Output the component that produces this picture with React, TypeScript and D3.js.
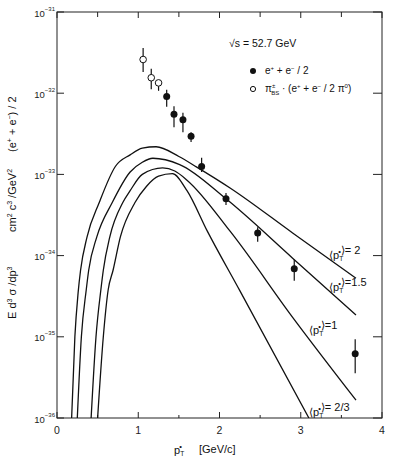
import React from 'react';
import * as d3 from 'd3';

// data points (pT in GeV/c, E d3s/dp3 in cm2 c3/GeV2)
const pTSolid = [1.35, 1.44, 1.55, 1.65, 1.78, 2.08, 2.47, 2.92, 3.67];
const valSolid = [9.1e-33, 5.5e-33, 4.7e-33, 2.95e-33, 1.25e-33, 5.0e-34, 1.9e-34, 6.9e-35, 6.2e-36];
const loSolid = [6.8e-33, 3.8e-33, 3.3e-33, 2.5e-33, 1.07e-33, 4.2e-34, 1.48e-34, 4.9e-35, 3.55e-36];
const hiSolid = [1.1e-32, 6.9e-33, 5.75e-33, 3.3e-33, 1.6e-33, 5.9e-34, 2.24e-34, 8.9e-35, 9.3e-36];

const pTOpen = [1.06, 1.16, 1.25];
const valOpen = [2.6e-32, 1.55e-32, 1.34e-32];
const loOpen = [1.82e-32, 1.12e-32, 1.07e-32];
const hiOpen = [3.6e-32, 2.0e-32, 1.45e-32];

// model curves for <pT*> = 2, 1.5, 1, 2/3
const curve2: [number, number][] = [
  [0.18, 1e-36], [0.22, 1e-35], [0.26, 3.5e-35], [0.29, 6.6e-35], [0.37, 1.7e-34],
  [0.52, 4.5e-34], [0.72, 1.26e-33], [0.9, 1.74e-33], [1.05, 2.1e-33], [1.22, 2.19e-33],
  [1.5, 1.66e-33], [1.72, 1.23e-33], [2.13, 6.8e-34], [2.9, 1.9e-34], [3.68, 5.25e-35],
];
const curve15: [number, number][] = [
  [0.25, 1e-36], [0.3, 1e-35], [0.36, 3.8e-35], [0.39, 6.6e-35], [0.49, 1.7e-34],
  [0.68, 4.5e-34], [0.9, 1.07e-33], [1.05, 1.41e-33], [1.18, 1.58e-33], [1.51, 1.32e-33],
  [2.08, 5.0e-34], [2.9, 9.3e-35], [3.68, 1.86e-35],
];
const curve1: [number, number][] = [
  [0.42, 1e-36], [0.48, 1e-35], [0.54, 3.8e-35], [0.57, 6.6e-35], [0.65, 1.7e-34],
  [0.81, 4.5e-34], [0.9, 6.3e-34], [1.05, 1.0e-33], [1.3, 1.2e-33], [1.45, 1.1e-33],
  [1.6, 8.5e-34], [2.13, 2.0e-34], [2.9, 1.74e-35], [3.68, 1.66e-36],
];
const curve23: [number, number][] = [
  [0.5, 1e-36], [0.57, 1e-35], [0.63, 3.8e-35], [0.69, 6.6e-35], [0.78, 1.7e-34],
  [0.96, 4.5e-34], [1.1, 7.1e-34], [1.25, 9.5e-34], [1.42, 1.02e-33], [1.6, 6.3e-34],
  [1.85, 2.0e-34], [2.25, 3.7e-35], [3.1, 1e-36],
];

const xTicks = [0, 1, 2, 3, 4];
const xHalfTicks = [0.5, 1.5, 2.5, 3.5];
const yExps = [-31, -32, -33, -34, -35, -36];

const font = 'Liberation Sans, Arial, sans-serif';

export default function App() {
  const x = d3.scaleLinear().domain([0, 4]).range([57, 382]);
  const y = d3.scaleLog().domain([1e-36, 1e-31]).range([418, 12]);
  const line = d3.line<[number, number]>()
    .x(d => x(d[0]))
    .y(d => y(d[1]))
    .curve(d3.curveMonotoneX);

  const [x0, x1] = x.range();
  const [yb, yt] = y.range();

  const pT = (size: number) => (
    <>
      p<tspan fontSize={size * 0.6} dy={2}>T</tspan>
      <tspan fontSize={size * 0.7} dx={-5} dy={-7}>•</tspan>
      <tspan dy={5}>{''}</tspan>
    </>
  );

  const labels = [
    { t: ' 2', x: 329, y: 259 },
    { t: '1.5', x: 329, y: 291 },
    { t: '1', x: 309, y: 334 },
    { t: ' 2/3', x: 309, y: 416 },
  ];

  return (
    <svg width={399} height={464} style={{ position: 'absolute', left: 0, top: 0, background: '#fff' }}
      fontFamily={font}>
      <defs>
        <clipPath id="plot">
          <rect x={x0} y={yt} width={x1 - x0} height={yb - yt} />
        </clipPath>
      </defs>

      {/* frame */}
      <rect x={x0} y={yt} width={x1 - x0} height={yb - yt} fill="none" stroke="#222" strokeWidth={1} />

      {/* y ticks, both sides */}
      {yExps.map(e => {
        const v = Math.pow(10, e);
        return (
          <g key={e}>
            <line x1={x0} x2={x0 + 7} y1={y(v)} y2={y(v)} stroke="#222" />
            <line x1={x1 - 9} x2={x1} y1={y(v)} y2={y(v)} stroke="#222" />
            <text x={55} y={y(v) + 4.5} textAnchor="end" fontSize={9.5} fill="#222">
              10<tspan fontSize={6} dy={-6}>{'\u2212' + String(-e)}</tspan>
            </text>
          </g>
        );
      })}

      {/* x ticks */}
      {xTicks.map(t => (
        <g key={t}>
          <line x1={x(t)} x2={x(t)} y1={yb} y2={yb - 6} stroke="#222" />
          <line x1={x(t)} x2={x(t)} y1={yt} y2={yt + 6} stroke="#222" />
          <text x={x(t)} y={434} textAnchor="middle" fontSize={10.5} fill="#222">{t}</text>
        </g>
      ))}
      {xHalfTicks.map(t => (
        <g key={t}>
          <line x1={x(t)} x2={x(t)} y1={yb} y2={yb - 3} stroke="#222" />
          <line x1={x(t)} x2={x(t)} y1={yt} y2={yt + 5} stroke="#222" />
        </g>
      ))}

      {/* curves */}
      <g clipPath="url(#plot)" fill="none" stroke="#111" strokeWidth={1.3}>
        {[curve2, curve15, curve1, curve23].map((c, i) => (
          <path key={i} d={line(c) || ''} />
        ))}
      </g>

      {/* error bars + markers */}
      <g stroke="#111" strokeWidth={1.2}>
        {pTSolid.map((p, i) => (
          <line key={'es' + i} x1={x(p)} x2={x(p)} y1={y(loSolid[i])} y2={y(hiSolid[i])} />
        ))}
        {pTOpen.map((p, i) => (
          <line key={'eo' + i} x1={x(p)} x2={x(p)} y1={y(loOpen[i])} y2={y(hiOpen[i])} />
        ))}
      </g>
      {pTSolid.map((p, i) => (
        <circle key={'s' + i} cx={x(p)} cy={y(valSolid[i])} r={3.5} fill="#111" />
      ))}
      {pTOpen.map((p, i) => (
        <circle key={'o' + i} cx={x(p)} cy={y(valOpen[i])} r={3.3} fill="#fff" stroke="#111" strokeWidth={1} />
      ))}

      {/* legend */}
      <text x={229} y={47} fontSize={10.5} fill="#111">√s = 52.7 GeV</text>
      <circle cx={253} cy={71} r={3} fill="#111" />
      <text x={265} y={74} fontSize={10} fill="#111">
        e<tspan fontSize={6} dy={-4}>+</tspan><tspan dy={4}> + e</tspan>
        <tspan fontSize={6} dy={-4}>−</tspan><tspan dy={4}> / 2</tspan>
      </text>
      <circle cx={253} cy={89} r={2.6} fill="#fff" stroke="#111" />
      <text x={265} y={92} fontSize={10} fill="#111">
        π<tspan fontSize={6} dy={-4}>±</tspan><tspan fontSize={6} dx={-4} dy={7}>BS</tspan>
        <tspan dy={-3}> · (e</tspan><tspan fontSize={6} dy={-4}>+</tspan><tspan dy={4}> + e</tspan>
        <tspan fontSize={6} dy={-4}>−</tspan><tspan dy={4}> / 2 π</tspan>
        <tspan fontSize={6} dy={-4}>0</tspan><tspan dy={4}>)</tspan>
      </text>

      {/* curve labels */}
      {labels.map(l => (
        <text key={l.t} x={l.x} y={l.y} fontSize={11} fill="#111">
          ⟨{pT(11)}⟩={l.t}
        </text>
      ))}

      {/* x title */}
      <text x={174} y={454} fontSize={11} fill="#111">
        {pT(11)}
      </text>
      <text x={199} y={453} fontSize={11} fill="#111">[GeV/c]</text>

      {/* y title */}
      <g fontSize={11} fill="#111">
        <text transform="translate(16,319) rotate(-90)">
          E d<tspan fontSize={7} dy={-4}>3</tspan><tspan dy={4}> σ /dp</tspan>
          <tspan fontSize={7} dy={-4}>3</tspan>
        </text>
        <text transform="translate(16,232) rotate(-90)">
          cm<tspan fontSize={7} dy={-4}>2</tspan><tspan dy={4}> c</tspan>
          <tspan fontSize={7} dy={-4}>3</tspan><tspan dy={4}> /GeV</tspan>
          <tspan fontSize={7} dy={-4}>2</tspan>
        </text>
        <text transform="translate(16,152) rotate(-90)">
          (e<tspan fontSize={7} dy={-4}>+</tspan><tspan dy={4}> + e</tspan>
          <tspan fontSize={7} dy={-4}>−</tspan><tspan dy={4}>) / 2</tspan>
        </text>
      </g>
    </svg>
  );
}
